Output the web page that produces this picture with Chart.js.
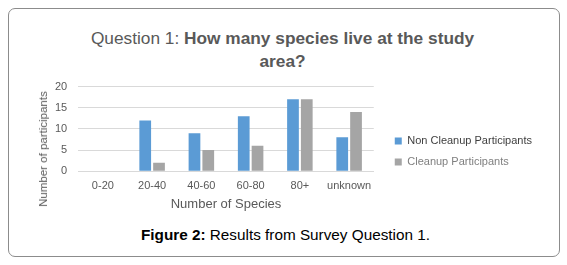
<!DOCTYPE html>
<html>
<head>
<meta charset="utf-8">
<script src="https://cdn.jsdelivr.net/npm/chart.js@4/dist/chart.umd.min.js"></script>
<style>
  body { margin: 0; background: #fff; font-family: "Liberation Sans", Arial, sans-serif; }
  .frame { position: absolute; left: 8px; top: 8px; width: 552px; height: 249px; box-sizing: border-box;
           border: 1px solid #8c8c8c; border-radius: 7px; }
  .title { position: absolute; left: 0; width: 565px; top: 27px; text-align: center; font-size: 17.3px;
           line-height: 23px; color: #595959; }
  .title b { font-weight: bold; }
  .yTitle { position: absolute; left: 43px; top: 149px; transform: translate(-50%, -50%) rotate(-90deg);
            white-space: nowrap; font-size: 11.5px; color: #595959; }
  .chartBox { position: absolute; left: 10px; top: 69px; width: 548px; height: 147px; }
  .caption { position: absolute; left: 0; width: 571px; top: 226px; text-align: center; font-size: 15.3px;
             line-height: 18px; color: #000; }
</style>
</head>
<body>
<div class="frame"></div>
<div class="title">Question 1: <b>How many species live at the study<br>area?</b></div>
<div class="chartBox"><canvas id="myChart"></canvas></div>
<div class="yTitle">Number of participants</div>
<div class="caption"><b>Figure 2:</b> Results from Survey Question 1.</div>
<script>
// categories and survey counts
const categories = ["0-20", "20-40", "40-60", "60-80", "80+", "unknown"];
const nonCleanup = [0, 12, 9, 13, 17, 8];
const cleanup = [0, 2, 5, 6, 17, 14];
const yTicks = [0, 5, 10, 15, 20];

// nudge the legend a bit away from the plot
const legendShift = {
  id: "legendShift",
  afterLayout(chart) {
    chart.legend.left += 11;
    chart.legend.right += 11;
    chart.legend.top += 7.5;
    chart.legend.bottom += 7.5;
  }
};

new Chart(document.getElementById("myChart"), {
  type: "bar",
  data: {
    labels: categories,
    datasets: [
      {
        label: "Non Cleanup Participants",
        data: nonCleanup,
        backgroundColor: "#5B9BD5",
        categoryPercentage: 0.56,
        barPercentage: 0.85,
      },
      {
        label: "Cleanup Participants",
        data: cleanup,
        backgroundColor: "#A5A5A5",
        categoryPercentage: 0.56,
        barPercentage: 0.85,
      },
    ],
  },
  options: {
    responsive: true,
    maintainAspectRatio: false,
    animation: false,
    layout: { padding: { left: 34, right: 27, top: 3, bottom: 0 } },
    plugins: {
      tooltip: { enabled: false },
      legend: {
        position: "right",
        maxWidth: 220,
        labels: {
          boxWidth: 7,
          boxHeight: 7,
          padding: 10,
          font: { family: "'Liberation Sans', Arial", size: 11 },
          generateLabels(chart) {
            const colors = ["#404040", "#7f7f7f"];
            return chart.data.datasets.map((ds, i) => ({
              text: ds.label,
              fillStyle: ds.backgroundColor,
              strokeStyle: ds.backgroundColor,
              lineWidth: 0,
              fontColor: colors[i],
              datasetIndex: i,
            }));
          },
        },
      },
    },
    scales: {
      x: {
        grid: { display: false, drawTicks: false },
        border: { color: "#d9d9d9" },
        ticks: {
          color: "#595959",
          padding: 8,
          maxRotation: 0,
          autoSkip: false,
          font: { family: "'Liberation Sans', Arial", size: 11 },
        },
        title: {
          display: true,
          text: "Number of Species",
          color: "#595959",
          padding: { top: -4, bottom: 4 },
          font: { family: "'Liberation Sans', Arial", size: 13 },
        },
      },
      y: {
        min: 0,
        max: 20,
        afterBuildTicks(axis) {
          axis.ticks = yTicks.map((v) => ({ value: v }));
        },
        grid: { color: "#d9d9d9", drawTicks: false },
        border: { display: false },
        ticks: {
          color: "#595959",
          padding: 11,
          autoSkip: false,
          font: { family: "'Liberation Sans', Arial", size: 11 },
        },
      },
    },
  },
  plugins: [legendShift],
});
</script>
</body>
</html>
